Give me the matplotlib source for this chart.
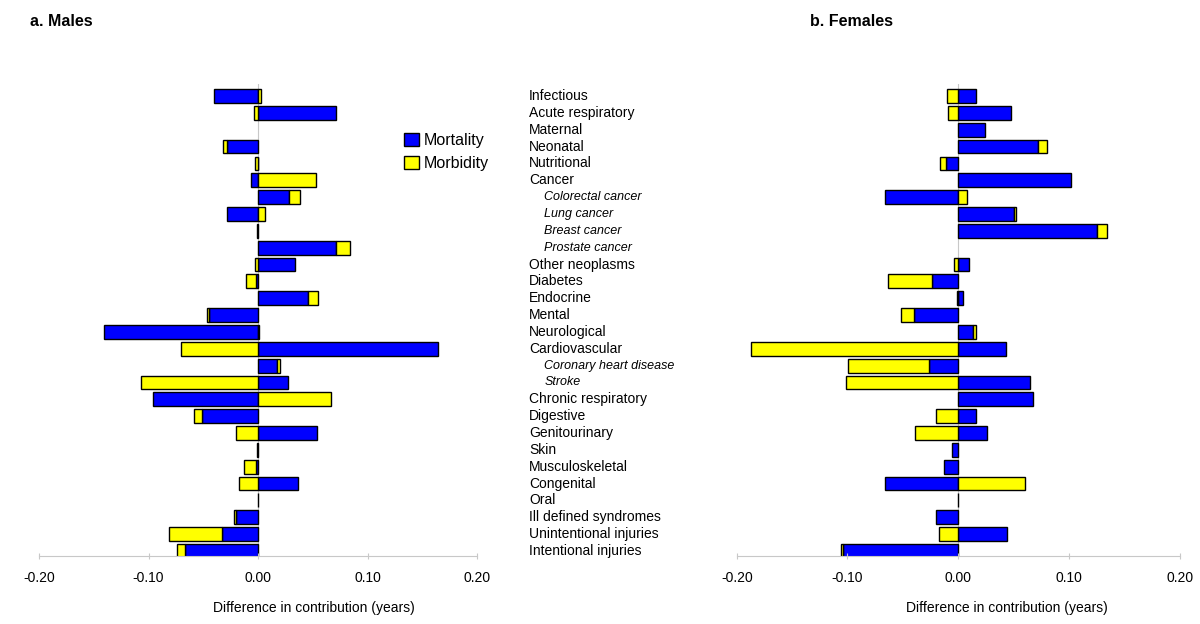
import numpy as np
import matplotlib
matplotlib.use("Agg")
from matplotlib import pyplot as plt
from matplotlib import transforms
from matplotlib.patches import Patch

plt.rcParams['font.family'] = ['Liberation Sans', 'DejaVu Sans']

categories = ["Infectious", "Acute respiratory", "Maternal", "Neonatal", "Nutritional",
              "Cancer", "Colorectal cancer", "Lung cancer", "Breast cancer", "Prostate cancer",
              "Other neoplasms", "Diabetes", "Endocrine", "Mental", "Neurological",
              "Cardiovascular", "Coronary heart disease", "Stroke", "Chronic respiratory",
              "Digestive", "Genitourinary", "Skin", "Musculoskeletal", "Congenital", "Oral",
              "Ill defined syndromes", "Unintentional injuries", "Intentional injuries"]
subcats = ["Colorectal cancer", "Lung cancer", "Breast cancer", "Prostate cancer",
           "Coronary heart disease", "Stroke"]

# difference in contribution (years)
male_mortality = [-0.040, 0.071, np.nan, -0.028, 0.0, -0.006, 0.028, -0.028, -0.001, 0.071,
                  0.034, -0.0015, 0.046, -0.0445, -0.1405, 0.1645, 0.0175, 0.0275, -0.096,
                  -0.051, 0.054, -0.0005, -0.002, 0.0365, 0.0, -0.0205, -0.0325, -0.067]
male_morbidity = [0.003, -0.004, np.nan, -0.004, -0.003, 0.053, 0.010, 0.006, 0.0, 0.013,
                  -0.003, -0.0095, 0.009, -0.002, 0.001, -0.0705, 0.003, -0.1065, 0.0665,
                  -0.0075, -0.020, 0.0, -0.011, -0.0175, 0.0, -0.001, -0.049, -0.007]
female_mortality = [0.016, 0.0475, 0.024, 0.072, -0.011, 0.102, -0.0665, 0.050, 0.125, np.nan,
                    0.010, -0.024, 0.0045, -0.0395, 0.013, 0.043, -0.026, 0.065, 0.0675,
                    0.016, 0.026, -0.006, -0.013, -0.0665, 0.0, -0.020, 0.0445, -0.1045]
female_morbidity = [-0.010, -0.009, 0.0, 0.008, -0.0055, 0.0, 0.008, 0.0025, 0.0095, np.nan,
                    -0.0035, -0.039, -0.0015, -0.0125, 0.003, -0.1875, -0.0735, -0.1015, 0.0,
                    -0.020, -0.039, 0.0, 0.0, 0.0605, 0.0, 0.0, -0.017, -0.001]

BLUE = "#0000FF"
YELLOW = "#FFFF00"
GREY = "#c8c8c8"


def draw_panel(ax, mort, morb):
    y = np.arange(len(categories))
    for i in y:
        m, b = mort[i], morb[i]
        if np.isnan(m):
            continue
        ax.barh(i, m, left=0, height=0.82, color=BLUE, edgecolor="black", linewidth=1)
        # stack morbidity on mortality when same sign, otherwise from zero
        left = m if m * b > 0 else 0
        if b != 0:
            ax.barh(i, b, left=left, height=0.82, color=YELLOW, edgecolor="black", linewidth=1)
    ax.axvline(0, color=GREY, lw=0.8, zorder=0)
    ax.set_xlim(-0.2, 0.2)
    ax.set_ylim(27.3, -0.7)
    ax.set_xticks([-0.2, -0.1, 0.0, 0.1, 0.2])
    ax.set_xticklabels(["-0.20", "-0.10", "0.00", "0.10", "0.20"], fontsize=10)
    ax.set_yticks([])
    for s in ["top", "right", "left"]:
        ax.spines[s].set_visible(False)
    ax.spines["bottom"].set_color(GREY)
    ax.tick_params(axis="x", colors=GREY, labelcolor="black", length=5, direction="inout", pad=8)
    ax.set_xlabel("Difference in contribution (years)", fontsize=10, labelpad=14)


fig = plt.figure(figsize=(12, 6.24), dpi=100)
ax1 = fig.add_axes([0.0325, 0.109, 0.365, 0.756])
ax2 = fig.add_axes([0.614, 0.109, 0.369, 0.756])

draw_panel(ax1, male_mortality, male_morbidity)
draw_panel(ax2, female_mortality, female_morbidity)
ax1.xaxis.set_label_coords(0.628, -0.095)
ax2.xaxis.set_label_coords(0.61, -0.095)

fig.text(0.025, 0.965, "a. Males", fontsize=11.5, fontweight="bold", va="center")
fig.text(0.675, 0.965, "b. Females", fontsize=11.5, fontweight="bold", va="center")

# category labels between the panels
trans = transforms.blended_transform_factory(fig.transFigure, ax2.transData)
for i, c in enumerate(categories):
    if c in subcats:
        ax2.text(0.4535, i, c, transform=trans, fontsize=9, style="italic", va="center")
    else:
        ax2.text(0.441, i, c, transform=trans, fontsize=10, va="center")

handles = [Patch(facecolor=BLUE, edgecolor="black", label="Mortality"),
           Patch(facecolor=YELLOW, edgecolor="black", label="Morbidity")]
fig.legend(handles=handles, loc="upper left", bbox_to_anchor=(0.325, 0.81), frameon=False,
           fontsize=11.5, handlelength=0.9, handleheight=0.9, handletextpad=0.3, labelspacing=0.5)

fig.savefig("out.png", dpi=100)
